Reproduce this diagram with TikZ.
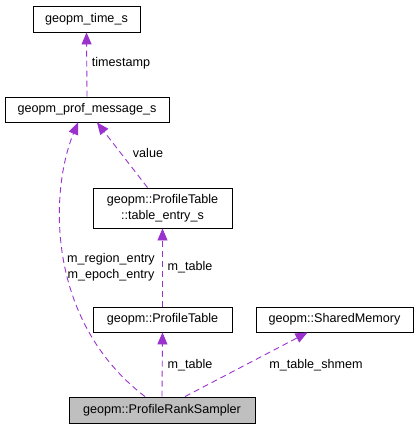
\documentclass[tikz,border=0pt]{standalone}
\usepackage{fontspec}
\setmainfont{Liberation Sans}
\usepackage{tikz}
\usetikzlibrary{arrows.meta,calc}

\begin{document}
\begin{tikzpicture}[x=1bp, y=-1bp, line cap=butt, line join=miter,
    every node/.style={font=\fontsize{12.6bp}{16.5bp}\selectfont},
    classbox/.style={draw=black, line width=0.9bp, fill=white, inner sep=0pt, align=center},
    member/.style={draw=edgecol, line width=0.9bp, dash pattern=on 6bp off 4bp,
      -{Triangle[length=12bp,width=10bp,fill=edgecol]}},
    memberlabel/.style={inner sep=0pt, align=center}]
  \colorlet{edgecol}{rgb,255:red,154;green,50;blue,205}
  \definecolor{selfcol}{RGB}{191,191,191}
  \useasboundingbox (0,0) rectangle (419,429);
  \node[classbox, minimum width=107bp, minimum height=26bp] (time) at (86.5,19) {geopm\_time\_s};
  \node[classbox, minimum width=164bp, minimum height=25bp] (msg) at (87,109.5) {geopm\_prof\_message\_s};
  \node[classbox, minimum width=139bp, minimum height=40bp] (entry) at (162.5,208)
    {geopm::ProfileTable\\::table\_entry\_s};
  \node[classbox, minimum width=139bp, minimum height=25bp] (table) at (162.5,319.5) {geopm::ProfileTable};
  \node[classbox, minimum width=157bp, minimum height=25bp] (shm) at (334.5,319.5) {geopm::SharedMemory};
  \node[classbox, fill=selfcol, minimum width=186bp, minimum height=26bp] (sampler) at (162,410)
    {geopm::ProfileRankSampler};
  \draw[member] (msg.north) -- (time.south);
  \draw[member] ([xshift=-15bp]entry.north) -- ([xshift=10bp]msg.south);
  \draw[member] ([xshift=-17bp]sampler.north) .. controls (45,320) and (50,190) .. ([xshift=-9bp]msg.south);
  \draw[member] (table.north) -- (entry.south);
  \draw[member] (sampler.north) -- (table.south);
  \draw[member] ([xshift=23bp]sampler.north) -- ([xshift=-27bp]shm.south);
  \node[memberlabel] (lbltime) at (121,63) {timestamp};
  \node[memberlabel] (lblvalue) at (148,153) {value};
  \node[memberlabel] (lblentry) at (111,267) {m\_region\_entry\\m\_epoch\_entry};
  \node[memberlabel] (lbltableup) at (190,267) {m\_table};
  \node[memberlabel] (lbltable) at (190,365) {m\_table};
  \node[memberlabel] (lblshm) at (316,365) {m\_table\_shmem};
\end{tikzpicture}
\end{document}
